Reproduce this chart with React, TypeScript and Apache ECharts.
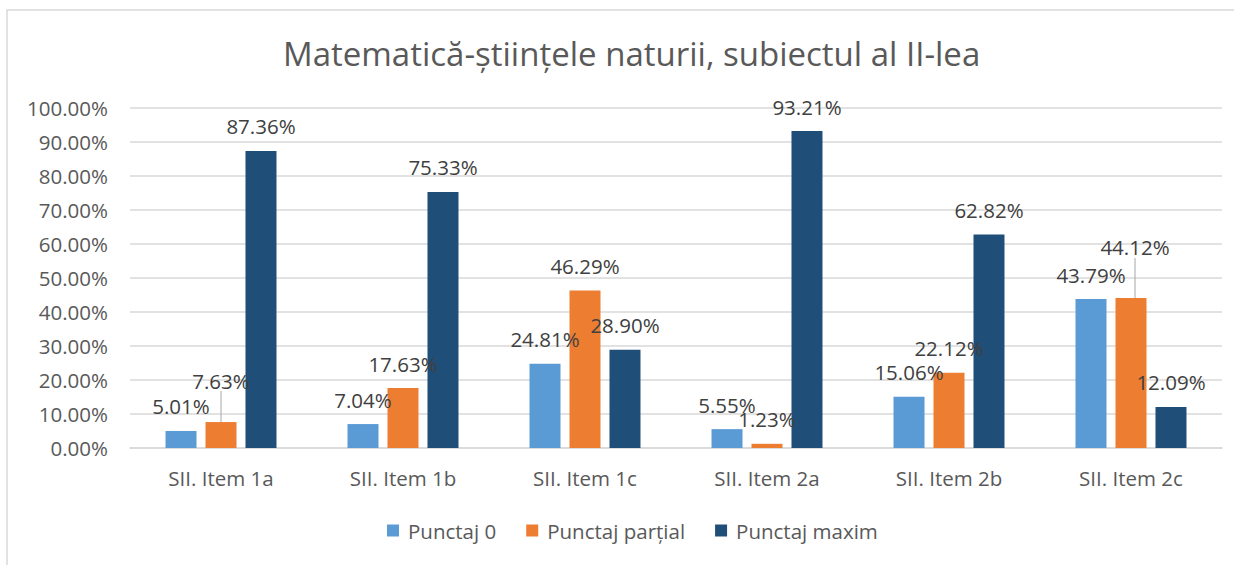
import React, { useEffect, useRef } from "react";
import * as echarts from "echarts";

const categories = ["SII. Item 1a", "SII. Item 1b", "SII. Item 1c", "SII. Item 2a", "SII. Item 2b", "SII. Item 2c"];
const punctaj0 = [5.01, 7.04, 24.81, 5.55, 15.06, 43.79];
const punctajPartial = [7.63, 17.63, 46.29, 1.23, 22.12, 44.12];
const punctajMaxim = [87.36, 75.33, 28.9, 93.21, 62.82, 12.09];
const yTicks = [0, 10, 20, 30, 40, 50, 60, 70, 80, 90, 100];

const FONT = "'Open Sans', 'Noto Sans', sans-serif";
const TXT = "#595959";
const FS = 20.5;

// label offsets (dx, dy) for manually moved labels of "Punctaj parțial"
const partialMoved: Record<number, [number, number]> = { 0: [0, -17], 5: [4, -26] };

export default function App() {
  const ref = useRef<HTMLDivElement>(null);
  useEffect(() => {
    if (!ref.current) return;
    const chart = echarts.init(ref.current, null, { renderer: "svg" });
    const labelBase = {
      show: true,
      position: "top",
      distance: 14,
      fontSize: FS,
      fontFamily: FONT,
      color: "#404040",
      formatter: (p: any) => Number(p.value).toFixed(2) + "%",
    };
    const mk = (name: string, vals: number[], color: string, moved?: Record<number, [number, number]>) => ({
      name,
      type: "bar",
      data: vals.map((v, i) =>
        moved && moved[i]
          ? { value: v, labelLine: { show: true, lineStyle: { color: "#a6a6a6", width: 1 } } }
          : { value: v, labelLine: { show: false } }
      ),
      barWidth: 31,
      barGap: "29%",
      itemStyle: { color },
      label: labelBase,
      labelLine: { show: false },
      labelLayout: (p: any) => {
        const m = moved && moved[p.dataIndex];
        return m ? { dx: m[0], dy: m[1] } : {};
      },
    });
    chart.setOption({
      animation: false,
      backgroundColor: "#fff",
      title: {
        text: "Matematică-științele naturii, subiectul al II-lea",
        left: 278,
        top: 32,
        textStyle: { fontFamily: FONT, fontSize: 33, fontWeight: "normal", color: TXT },
      },
      graphic: [
        {
          type: "rect",
          shape: { x: 7, y: 10, width: 1240, height: 570 },
          style: { fill: "none", stroke: "#d9d9d9", lineWidth: 1.5 },
          silent: true,
        },
      ],
      legend: {
        bottom: 19,
        left: 382,
        itemWidth: 12,
        itemHeight: 12,
        itemGap: 30,
        icon: "rect",
        textStyle: { fontFamily: FONT, fontSize: FS, color: TXT, padding: [0, 0, 0, 4] },
      },
      grid: { left: 130, right: 12, top: 108, bottom: 117, containLabel: false },
      xAxis: {
        type: "category",
        data: categories,
        axisLine: { lineStyle: { color: "#d9d9d9", width: 1.5 } },
        axisTick: { show: false },
        axisLabel: { fontFamily: FONT, fontSize: FS, color: TXT, margin: 19 },
      },
      yAxis: {
        type: "value",
        min: yTicks[0],
        max: yTicks[yTicks.length - 1],
        interval: 10,
        axisLine: { show: false },
        axisTick: { show: false },
        splitLine: { lineStyle: { color: "#d9d9d9", width: 1.5 } },
        axisLabel: {
          fontFamily: FONT,
          fontSize: FS,
          color: TXT,
          margin: 22,
          formatter: (v: number) => v.toFixed(2) + "%",
        },
      },
      series: [
        mk("Punctaj 0", punctaj0, "#5B9BD5"),
        mk("Punctaj parțial", punctajPartial, "#ED7D31", partialMoved),
        mk("Punctaj maxim", punctajMaxim, "#1F4E79"),
      ],
    });
    return () => chart.dispose();
  }, []);
  return (
    <div
      ref={ref}
      style={{ position: "absolute", left: 0, top: 0, width: 1234, height: 565 }}
    />
  );
}
